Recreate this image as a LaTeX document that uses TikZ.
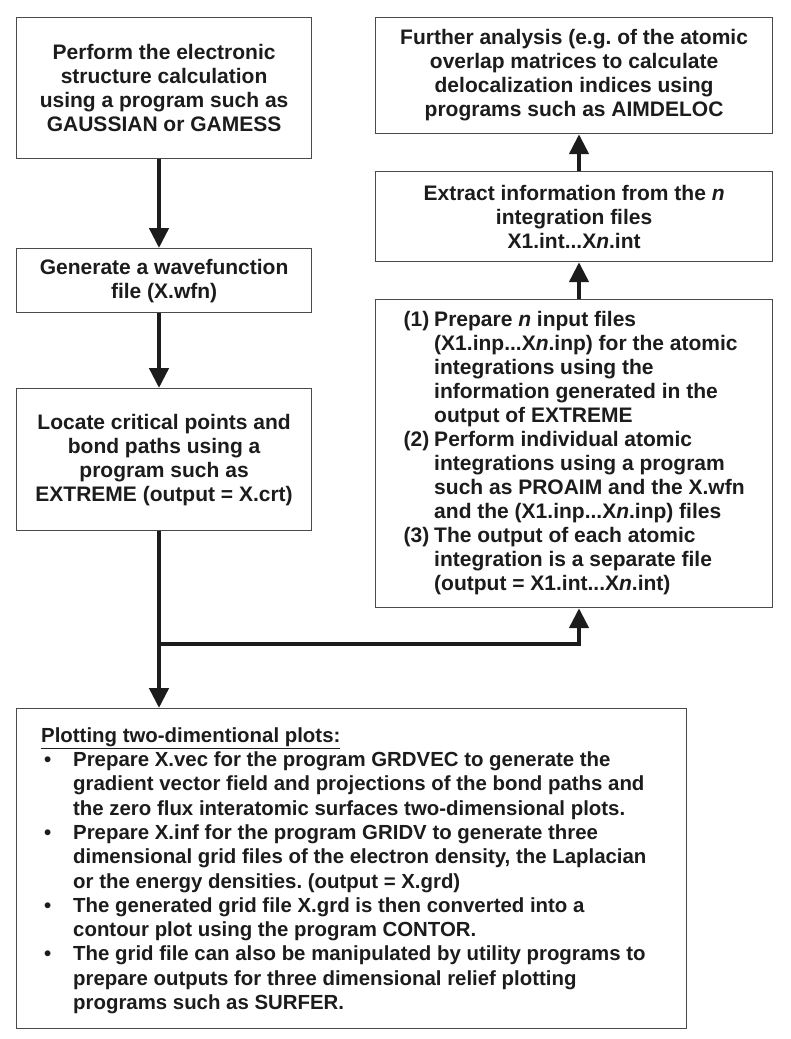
\documentclass[tikz,border=0pt]{standalone}
\usepackage{fontspec}
\setsansfont{Liberation Sans}
\usetikzlibrary{arrows.meta}
\definecolor{ink}{HTML}{1C1C1C}
\definecolor{frame}{HTML}{4A4A4A}
\frenchspacing
\begin{document}
\begin{tikzpicture}[x=1pt,y=-1pt,
  box/.style={draw=frame,line width=1.2pt,fill=white,anchor=north west,inner sep=0pt,
    text=ink,align=center,font=\sffamily\bfseries\fontsize{21}{24}\selectfont},
  conn/.style={draw=ink,line width=4.5pt,line join=miter,-{Triangle[width=19pt,length=20pt]}}]
\useasboundingbox[fill=white] (0,0) rectangle (790,1039);
\coordinate (lx) at (159,0);
\coordinate (rx) at (579,0);
\coordinate (jn) at (159,644);
% left column
\node[box,minimum width=295pt,minimum height=141pt] (p1) at (16,17)
  {Perform the electronic\\structure calculation\\using a program such as\\GAUSSIAN or GAMESS};
\node[box,minimum width=295pt,minimum height=64pt] (p2) at (16,248)
  {Generate a wavefunction\\file (X.wfn)};
\node[box,minimum width=295pt,minimum height=142pt] (p3) at (16,388)
  {Locate critical points and\\bond paths using a\\program such as\\EXTREME (output = X.crt)};
% right column
\node[box,minimum width=397pt,minimum height=116pt] (r1) at (375,17)
  {Further analysis (e.g. of the atomic\\overlap matrices to calculate\\delocalization indices using\\programs such as AIMDELOC};
\node[box,minimum width=397pt,minimum height=90pt] (r2) at (375,171)
  {Extract information from the \textit{n}\\integration files\\X1.int...X\textit{n}.int};
\node[box,minimum width=397pt,minimum height=308pt] (r3) at (375,299)
  {\renewcommand\arraystretch{1}%
   \begin{tabular}{@{}l@{\hspace{5pt}}l@{}}
   (1) & Prepare \textit{n} input files\\
       & (X1.inp...X\textit{n}.inp) for the atomic\\
       & integrations using the\\
       & information generated in the\\
       & output of EXTREME\\
   (2) & Perform individual atomic\\
       & integrations using a program\\
       & such as PROAIM and the X.wfn\\
       & and the (X1.inp...X\textit{n}.inp) files\\
   (3) & The output of each atomic\\
       & integration is a separate file\\
       & (output = X1.int...X\textit{n}.int)
   \end{tabular}};
% bottom box
\node[box,minimum width=670pt,minimum height=320pt] (pl) at (16,708) {};
\node[anchor=north west,inner sep=0pt,text=ink,align=left,
  font=\sffamily\bfseries\fontsize{20.4}{24.3}\selectfont] (plt) at (41,725)
  {\renewcommand\arraystretch{1}%
   \begin{tabular}{@{}p{32pt}@{}l@{}}
   \multicolumn{2}{@{}l@{}}{\underline{Plotting two-dimentional plots:}}\\
   \hspace{3pt}\textbullet & Prepare X.vec for the program GRDVEC to generate the\\
       & gradient vector field and projections of the bond paths and\\
       & the zero flux interatomic surfaces two-dimensional plots.\\
   \hspace{3pt}\textbullet & Prepare X.inf for the program GRIDV to generate three\\
       & dimensional grid files of the electron density, the Laplacian\\
       & or the energy densities. (output = X.grd)\\
   \hspace{3pt}\textbullet & The generated grid file X.grd is then converted into a\\
       & contour plot using the program CONTOR.\\
   \hspace{3pt}\textbullet & The grid file can also be manipulated by utility programs to\\
       & prepare outputs for three dimensional relief plotting\\
       & programs such as SURFER.
   \end{tabular}};
% connectors
\draw[conn] (p1.south -| lx) -- (p2.north -| lx);
\draw[conn] (p2.south -| lx) -- (p3.north -| lx);
\draw[conn] (p3.south -| lx) -- (pl.north -| lx);
\draw[conn] (jn) -| (r3.south -| rx);
\draw[conn] (r3.north -| rx) -- (r2.south -| rx);
\draw[conn] (r2.north -| rx) -- (r1.south -| rx);
\end{tikzpicture}
\end{document}
